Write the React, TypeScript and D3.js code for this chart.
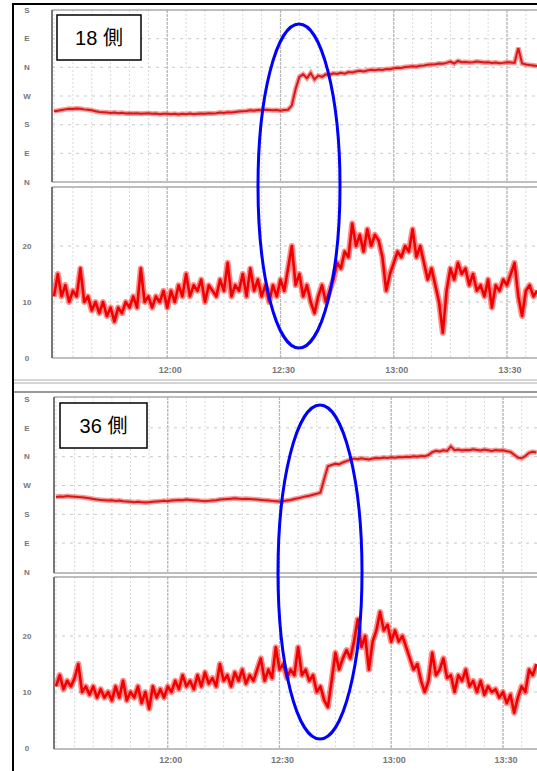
import React from 'react';
import * as d3 from 'd3';

// samples are one per minute, starting at 11:30
const startTime = new Date(2000, 0, 1, 11, 30);
const tickLabels = ['12:00', '12:30', '13:00', '13:30'];
const dirLabels = ['N', 'E', 'S', 'W', 'N', 'E', 'S']; // 0..540 deg, step 90
const speedTicks = [0, 10, 20];

const dir18 = [
  222, 224, 226, 228, 230, 229, 231, 230, 228, 227, 225,
  222, 220, 219, 218, 217, 218, 216, 217, 215, 216,
  215, 216, 214, 215, 216, 214, 215, 213, 214, 214,
  213, 214, 212, 214, 213, 215, 213, 214, 215, 214,
  216, 215, 216, 218, 217, 219, 218, 220, 221, 222,
  223, 225, 224, 226, 225, 227, 226, 225, 226, 224,
  226, 227, 240,
  292, 330, 338, 326, 342, 322, 334,
  330, 338, 336, 341, 339, 343, 340, 345, 344, 347,
  349, 347, 350, 352, 351, 353, 352, 355, 354, 357,
  359, 358, 361, 362, 363, 362, 365, 366, 368, 369,
  370, 372, 371, 374, 378, 372, 380, 376, 377, 375,
  376, 378, 377, 375, 376, 374, 375, 373, 374, 376,
  375, 374, 421, 372, 369, 367, 366, 364,
];

const spd18 = [
  11, 15, 11, 13, 10, 12, 11, 16, 10, 11,
  8.5, 10, 8, 10, 7.5, 9, 6.5, 9, 8, 10,
  9, 11, 9, 16, 10, 11, 9, 11, 10, 12,
  9, 12, 10, 13, 11, 15, 11, 13, 12, 14,
  10, 13, 12, 11, 14, 12, 17, 11, 13, 12,
  15, 11, 16, 12, 14, 11, 13, 10, 13, 11,
  14, 12, 16, 20, 13, 15, 11, 13, 10, 8,
  11, 13, 10, 12, 14, 17, 16, 19, 18, 24,
  20, 22, 19, 23, 20, 22, 21, 18, 12, 15,
  17, 19, 18, 20, 19, 23, 18, 20, 17, 14,
  16, 13, 10, 4.5, 12, 16, 14, 17, 15, 16,
  13, 15, 12, 13, 11, 14, 9, 13, 12, 14,
  13, 15, 17, 11, 7.5, 12, 13, 11, 12,
];

const dir36 = [
  234, 236, 235, 237, 236, 235, 234, 233, 232, 230, 228,
  226, 225, 224, 223, 224, 222, 223, 221, 220, 219,
  218, 219, 218, 217, 218, 219, 220, 221, 222, 221,
  223, 224, 225, 224, 226, 225, 224, 223, 222, 221,
  222, 223, 224, 226, 227, 228, 229, 230, 229, 228,
  229, 228, 227, 226, 225, 224, 223, 222, 221, 220,
  221, 223, 225, 228, 230, 233, 236, 238, 241, 244,
  248, 290, 330, 334, 338, 336, 342, 346, 350, 354,
  352, 355, 353, 351, 354, 356, 355, 357, 356, 358,
  357, 359, 358, 360, 359, 361, 360, 362, 361, 365,
  374, 378, 376, 380, 378, 392, 380, 382, 379, 381,
  380, 383, 381, 379, 382, 380, 378, 381, 379, 380,
  377, 375, 366, 357, 355, 362, 372, 375, 373,
];

const spd36 = [
  11, 13, 10.5, 12, 11, 12.5, 15, 10, 11, 9.5,
  11, 9, 10.5, 9, 10, 8.5, 11, 9, 12, 8.5,
  10, 9, 11, 8, 10, 7, 11, 9, 10.5, 9,
  11, 10, 12, 10.5, 13, 11, 12, 10.5, 13, 11,
  13.5, 11.5, 12.5, 11, 15, 12, 13, 11, 13.5, 12,
  14, 11.5, 13, 12, 14, 16, 12, 14, 12.5, 18,
  14, 15, 12.5, 14, 13, 18, 13, 14, 12, 13,
  10, 11, 8.5, 7.3, 12, 17, 14, 16, 17.5, 16,
  19, 23, 18, 20, 14, 19, 21, 24.3, 21, 22,
  19, 21, 19, 20, 18, 16, 14, 15, 12, 10,
  12, 17, 13, 14, 16, 12.5, 13, 10, 13, 12,
  14, 11, 12, 10, 12, 9.5, 11, 10, 10.5, 9,
  10, 8, 9.5, 6.3, 9, 11, 10, 14, 13, 15,
];

const W = 537;
const H = 771;
const labelFont = '"Liberation Sans", Arial, sans-serif';
const boxFont = '"Liberation Sans", Arial, "Noto Sans CJK JP", sans-serif';

type Cfg = {
  id: string;
  left: number;
  xr: [number, number];
  dirBox: [number, number];
  spdBox: [number, number];
  dirY: [number, number];
  spdY: [number, number];
  tickY: number;
  label: string;
  box: { x: number; y: number; w: number; h: number };
  ell: { cx: number; cy: number; rx: number; ry: number };
};

const timeOf = (s: string) => {
  const [h, m] = s.split(':').map(Number);
  return new Date(2000, 0, 1, h, m);
};

function Panel({ cfg, dir, spd }: { cfg: Cfg; dir: number[]; spd: number[] }) {
  const x = d3.scaleTime().domain([startTime, timeOf('13:30')]).range(cfg.xr);
  const yd = d3.scaleLinear().domain([0, 540]).range(cfg.dirY);
  const ys = d3.scaleLinear().domain([0, 30]).range(cfg.spdY);
  const tAt = (i: number) => d3.timeMinute.offset(startTime, i);

  const dirLine = d3.line<number>().x((d, i) => x(tAt(i))).y((d) => yd(d));
  const spdLine = d3.line<number>().x((d, i) => x(tAt(i))).y((d) => ys(d));

  const minor = d3.timeMinute.every(5)!.range(startTime, x.invert(W));
  const major = tickLabels.map(timeOf);

  const boxes: [number, number][] = [cfg.dirBox, cfg.spdBox];

  const vGrid = (top: number, bottom: number, key: string) => (
    <g key={key}>
      {minor.map((t, i) => (
        <line key={'m' + i} x1={x(t)} x2={x(t)} y1={top} y2={bottom}
          stroke="#dadada" strokeWidth={1} strokeDasharray="2,2" />
      ))}
      {major.map((t, i) => (
        <line key={'M' + i} x1={x(t)} x2={x(t)} y1={top} y2={bottom}
          stroke="#b4b4b4" strokeWidth={1.2} strokeDasharray="3,1" />
      ))}
    </g>
  );

  return (
    <g>
      <defs>
        <clipPath id={cfg.id + 'd'}>
          <rect x={cfg.left} y={cfg.dirBox[0]} width={W - cfg.left} height={cfg.dirBox[1] - cfg.dirBox[0]} />
        </clipPath>
        <clipPath id={cfg.id + 's'}>
          <rect x={cfg.left} y={cfg.spdBox[0]} width={W - cfg.left} height={cfg.spdBox[1] - cfg.spdBox[0]} />
        </clipPath>
      </defs>

      {boxes.map((b, i) => vGrid(b[0], b[1], 'v' + i))}

      {d3.range(90, 540, 90).map((v) => (
        <line key={'hd' + v} x1={cfg.left} x2={W} y1={yd(v)} y2={yd(v)}
          stroke="#c8c8c8" strokeWidth={1} strokeDasharray="3,5" />
      ))}
      {[10, 20].map((v) => (
        <line key={'hs' + v} x1={cfg.left} x2={W} y1={ys(v)} y2={ys(v)}
          stroke="#c8c8c8" strokeWidth={1} strokeDasharray="3,5" />
      ))}

      {boxes.map((b, i) => (
        <g key={'b' + i}>
          <line x1={cfg.left} x2={W} y1={b[0]} y2={b[0]} stroke="#a8a8a8" strokeWidth={1.5} />
          <line x1={cfg.left} x2={W} y1={b[1]} y2={b[1]} stroke="#a8a8a8" strokeWidth={1.5} />
          <line x1={cfg.left} x2={cfg.left} y1={b[0]} y2={b[1]} stroke="#777" strokeWidth={2} />
        </g>
      ))}

      <g clipPath={`url(#${cfg.id}d)`}>
        <path d={dirLine(dir) || ''} fill="none" stroke="#f07070" strokeOpacity={0.7} strokeWidth={5} />
        <path d={dirLine(dir) || ''} fill="none" stroke="#d81818" strokeWidth={2} />
      </g>
      <g clipPath={`url(#${cfg.id}s)`}>
        <path d={spdLine(spd) || ''} fill="none" stroke="#ff2a2a" strokeOpacity={0.55} strokeWidth={6} strokeLinejoin="round" />
        <path d={spdLine(spd) || ''} fill="none" stroke="#f00000" strokeWidth={2.6} strokeLinejoin="round" />
      </g>

      {dirLabels.map((l, i) => (
        <text key={'dl' + i} x={27} y={yd(i * 90)} dy="0.35em" textAnchor="middle"
          fontFamily={labelFont} fontSize={8} fontWeight="bold" fill="#777">{l}</text>
      ))}
      {speedTicks.map((v) => (
        <text key={'sl' + v} x={27} y={ys(v)} dy="0.35em" textAnchor="middle"
          fontFamily={labelFont} fontSize={8} fontWeight="bold" fill="#777">{v}</text>
      ))}
      {major.map((t, i) => (
        <text key={'xl' + i} x={x(t) + 3} y={cfg.tickY} dy="0.35em" textAnchor="middle"
          fontFamily={labelFont} fontSize={9} fontWeight="bold" fill="#777">{tickLabels[i]}</text>
      ))}

      <rect x={cfg.box.x} y={cfg.box.y} width={cfg.box.w} height={cfg.box.h}
        fill="#fff" stroke="#000" strokeWidth={1.5} />
      <text x={cfg.box.x + cfg.box.w / 2} y={cfg.box.y + cfg.box.h / 2} dy="0.36em" textAnchor="middle"
        fontFamily={boxFont} fontSize={20} fill="#000">{cfg.label}</text>

      <ellipse cx={cfg.ell.cx} cy={cfg.ell.cy} rx={cfg.ell.rx} ry={cfg.ell.ry}
        fill="none" stroke="#0000ff" strokeWidth={3} />
    </g>
  );
}

const panel18: Cfg = {
  id: 'p18',
  left: 52,
  xr: [54, 507],
  dirBox: [10, 182],
  spdBox: [187, 358],
  dirY: [182, 10],
  spdY: [358, 190],
  tickY: 370,
  label: '18 側',
  box: { x: 57, y: 15, w: 84, h: 45 },
  ell: { cx: 299, cy: 186, rx: 41, ry: 162 },
};

const panel36: Cfg = {
  id: 'p36',
  left: 54,
  xr: [56, 503],
  dirBox: [397, 573],
  spdBox: [577, 749],
  dirY: [572, 399],
  spdY: [748, 580],
  tickY: 760,
  label: '36 側',
  box: { x: 60, y: 403, w: 87, h: 45 },
  ell: { cx: 320, cy: 572, rx: 42, ry: 167 },
};

export default function App() {
  return (
    <svg width={W} height={H} style={{ position: 'absolute', left: 0, top: 0, background: '#fff' }}>
      <rect x={0} y={0} width={W} height={H} fill="#fff" />
      <Panel cfg={panel18} dir={dir18} spd={spd18} />
      <line x1={12} x2={W} y1={380} y2={380} stroke="#aaa" strokeWidth={1} />
      <line x1={12} x2={W} y1={383} y2={383} stroke="#aaa" strokeWidth={1} />
      <line x1={12} x2={W} y1={392} y2={392} stroke="#777" strokeWidth={1.5} />
      <Panel cfg={panel36} dir={dir36} spd={spd36} />
      <line x1={13} x2={13} y1={3} y2={H} stroke="#000" strokeWidth={2} />
      <line x1={12} x2={W} y1={4} y2={4} stroke="#000" strokeWidth={2} />
    </svg>
  );
}
